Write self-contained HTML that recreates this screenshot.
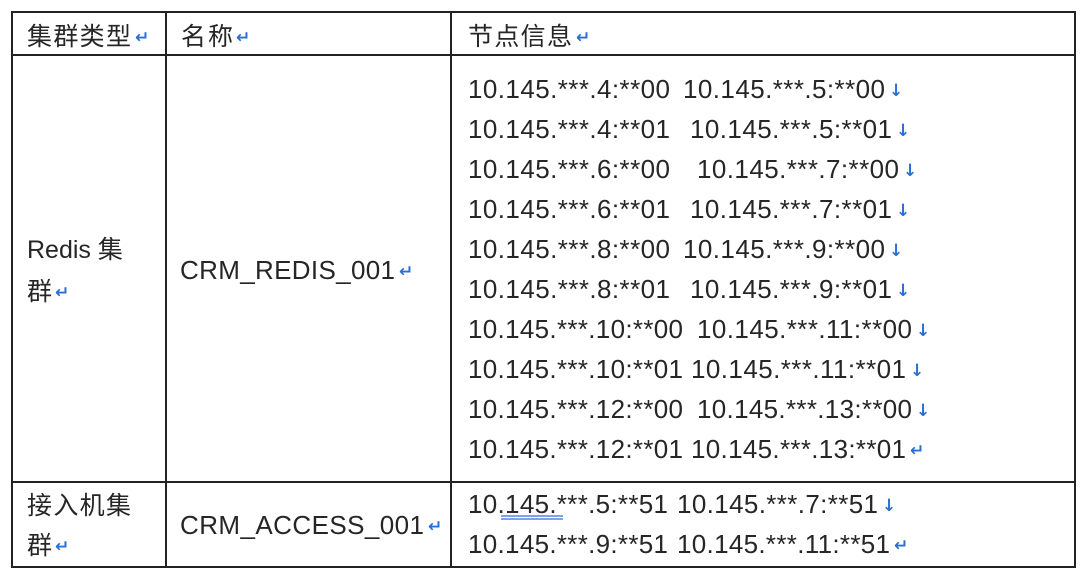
<!DOCTYPE html>
<html><head><meta charset="utf-8"><style>
html,body{margin:0;padding:0;background:#fff;width:1080px;height:573px;overflow:hidden}
text{font-family:"Liberation Sans","Noto Sans CJK SC",sans-serif;fill:#262626}
.cj{font-family:"Noto Sans CJK SC","Liberation Sans",sans-serif}
.a{fill:#2b6fd6;font-size:17px;font-weight:bold;font-family:"DejaVu Sans",sans-serif}
</style></head><body>
<svg width="1080" height="573" xmlns="http://www.w3.org/2000/svg">
<g stroke="#222" stroke-width="2" fill="none">
<rect x="12" y="12" width="1063" height="555"/>
<line x1="12" y1="55" x2="1075" y2="55"/>
<line x1="12" y1="482" x2="1075" y2="482"/>
<line x1="166" y1="12" x2="166" y2="567"/>
<line x1="451" y1="12" x2="451" y2="567"/>
</g>
<g font-size="25">
<text class="cj" x="27" y="45" textLength="104">集群类型</text><text class="a" x="135" y="43">↵</text>
<text class="cj" x="181" y="45" textLength="52">名称</text><text class="a" x="236" y="43">↵</text>
<text class="cj" x="468" y="45" textLength="104">节点信息</text><text class="a" x="576" y="43">↵</text>

<text x="27" y="258">Redis <tspan class="cj">集</tspan></text>
<text class="cj" x="27" y="300">群</text><text class="a" x="55" y="298">↵</text>
<text x="180" y="279" font-size="26" textLength="215">CRM_REDIS_001</text><text class="a" x="399" y="277">↵</text>

<text class="cj" x="27" y="514" textLength="104">接入机集</text>
<text class="cj" x="27" y="554">群</text><text class="a" x="55" y="552">↵</text>
<text x="180" y="534" font-size="26" textLength="244">CRM_ACCESS_001</text><text class="a" x="428" y="532">↵</text>
</g>
<g font-size="26">
<text x="468" y="98" textLength="202">10.145.***.4:**00</text><text x="683" y="98" textLength="202">10.145.***.5:**00</text><text class="a" x="889" y="96">↓</text>
<text x="468" y="138" textLength="202">10.145.***.4:**01</text><text x="690" y="138" textLength="202">10.145.***.5:**01</text><text class="a" x="896" y="136">↓</text>
<text x="468" y="178" textLength="202">10.145.***.6:**00</text><text x="697" y="178" textLength="202">10.145.***.7:**00</text><text class="a" x="903" y="176">↓</text>
<text x="468" y="218" textLength="202">10.145.***.6:**01</text><text x="690" y="218" textLength="202">10.145.***.7:**01</text><text class="a" x="896" y="216">↓</text>
<text x="468" y="258" textLength="202">10.145.***.8:**00</text><text x="683" y="258" textLength="202">10.145.***.9:**00</text><text class="a" x="889" y="256">↓</text>
<text x="468" y="298" textLength="202">10.145.***.8:**01</text><text x="690" y="298" textLength="202">10.145.***.9:**01</text><text class="a" x="896" y="296">↓</text>
<text x="468" y="338" textLength="215">10.145.***.10:**00</text><text x="697" y="338" textLength="215">10.145.***.11:**00</text><text class="a" x="916" y="336">↓</text>
<text x="468" y="378" textLength="215">10.145.***.10:**01</text><text x="691" y="378" textLength="215">10.145.***.11:**01</text><text class="a" x="910" y="376">↓</text>
<text x="468" y="418" textLength="215">10.145.***.12:**00</text><text x="697" y="418" textLength="215">10.145.***.13:**00</text><text class="a" x="916" y="416">↓</text>
<text x="468" y="458" textLength="215">10.145.***.12:**01</text><text x="691" y="458" textLength="215">10.145.***.13:**01</text><text class="a" x="910" y="456">↵</text>

<text x="468" y="513" textLength="200">10.145.***.5:**51</text><text x="677" y="513" textLength="201">10.145.***.7:**51</text><text class="a" x="882" y="511">↓</text>
<text x="468" y="553" textLength="200">10.145.***.9:**51</text><text x="677" y="553" textLength="213">10.145.***.11:**51</text><text class="a" x="894" y="551">↵</text>
</g>
<g stroke="#2b6fd6" stroke-width="1.3">
<line x1="501" y1="516" x2="563" y2="516"/>
<line x1="501" y1="519" x2="563" y2="519"/>
</g>
</svg>
</body></html>
